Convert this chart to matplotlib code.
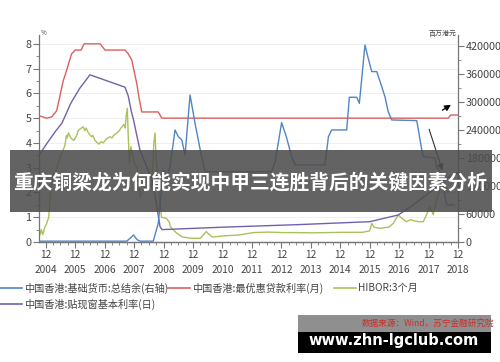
import matplotlib
matplotlib.use('Agg')
import matplotlib.pyplot as plt
from matplotlib.patches import Rectangle
from matplotlib.lines import Line2D
import numpy as np

plt.rcParams['font.family'] = ['Noto Sans CJK SC', 'DejaVu Sans']

# ---- data ----
# prime lending rate, % (left axis)
prime_t = [2004.72, 2004.85, 2004.98, 2005.15, 2005.32, 2005.45, 2005.54, 2005.65, 2005.75,
           2005.83, 2005.95, 2006.15, 2006.25, 2006.80, 2006.96, 2007.64, 2007.75, 2007.87,
           2007.95, 2008.04, 2008.12, 2008.21, 2008.77, 2008.89, 2018.62, 2018.70, 2018.95]
prime_v = [5.1, 5.05, 5.0, 5.05, 5.3, 6.0, 6.5, 6.9, 7.3,
           7.6, 7.75, 7.75, 8.0, 8.0, 7.75, 7.75, 7.6, 7.35,
           6.9, 6.4, 5.8, 5.25, 5.25, 5.0, 5.0, 5.125, 5.125]

# discount window base rate, % (left axis)
base_t = [2004.72, 2005.0, 2005.3, 2005.5, 2005.8, 2006.1, 2006.45, 2007.64, 2007.75, 2007.85,
          2007.93, 2008.15, 2008.38, 2008.60, 2008.72, 2008.83, 2008.90, 2011.0, 2013.5,
          2015.95, 2016.92, 2017.43, 2017.65, 2018.10, 2018.33, 2018.56, 2018.95]
base_v = [3.5, 4.0, 4.5, 4.8, 5.6, 6.2, 6.75, 6.25, 5.9, 5.3,
          4.93, 3.7, 3.04, 2.37, 1.43, 0.62, 0.5, 0.6, 0.7,
          0.82, 1.09, 1.5, 1.7, 2.1, 2.3, 2.57, 2.8]

# HIBOR 3 month, % (left axis)
hibor_t = [2004.72, 2004.76, 2004.80, 2004.85, 2004.92, 2004.98, 2005.05, 2005.10, 2005.15,
           2005.22, 2005.27, 2005.32, 2005.40, 2005.45, 2005.50, 2005.60, 2005.65, 2005.68,
           2005.72, 2005.80, 2005.90, 2006.00, 2006.05, 2006.10, 2006.22, 2006.28, 2006.32,
           2006.40, 2006.50, 2006.55, 2006.62, 2006.75, 2006.83, 2006.90, 2007.00, 2007.12,
           2007.20, 2007.25, 2007.36, 2007.45, 2007.50, 2007.60, 2007.65, 2007.68, 2007.72,
           2007.75, 2007.79, 2007.84, 2007.90, 2007.95, 2008.05, 2008.15, 2008.30, 2008.38,
           2008.55, 2008.62, 2008.66, 2008.70, 2008.76, 2008.88, 2009.05, 2009.15, 2009.18,
           2009.40, 2009.60, 2009.90, 2010.20, 2010.40, 2010.50, 2010.62, 2011.00, 2011.50,
           2012.00, 2012.50, 2013.00, 2013.50, 2014.00, 2014.50, 2015.00, 2015.70, 2015.95,
           2016.02, 2016.10, 2016.30, 2016.60, 2016.75, 2016.92, 2017.05, 2017.20, 2017.33,
           2017.60, 2017.77, 2017.88, 2018.00, 2018.11, 2018.22, 2018.33, 2018.39, 2018.50,
           2018.60, 2018.75, 2018.95]
hibor_v = [0.6, 0.3, 0.5, 0.3, 0.6, 0.75, 1.0, 1.8, 2.4,
           2.8, 2.6, 3.0, 3.3, 3.5, 3.6, 3.9, 4.3, 4.2,
           4.4, 4.2, 4.1, 4.3, 4.5, 4.55, 4.65, 4.5, 4.6,
           4.4, 4.25, 4.3, 4.1, 3.95, 4.05, 4.0, 4.15, 4.25,
           4.2, 4.3, 4.4, 4.5, 4.6, 4.75, 4.6, 5.1, 5.4,
           4.3, 3.2, 3.85, 3.5, 3.2, 3.0, 1.8, 2.2, 2.5,
           2.2, 4.0, 4.4, 3.3, 2.4, 1.0, 0.95, 0.8, 0.62,
           0.35, 0.2, 0.15, 0.15, 0.42, 0.3, 0.2, 0.25, 0.28,
           0.38, 0.4, 0.38, 0.38, 0.37, 0.38, 0.39, 0.39, 0.45,
           0.75, 0.6, 0.55, 0.6, 0.75, 1.09, 0.95, 0.82, 0.9,
           0.82, 0.82, 1.1, 1.43, 1.1, 1.7, 2.1, 2.23, 2.3,
           2.0, 2.2, 2.35]

# aggregate balance, HKD million (right axis)
agg_t = [2004.72, 2007.70, 2007.85, 2007.93, 2008.05, 2008.15, 2008.60, 2008.77, 2008.88,
         2008.95, 2009.06, 2009.17, 2009.34, 2009.45, 2009.57, 2009.68, 2009.85, 2010.02,
         2010.24, 2010.36, 2012.62, 2012.74, 2012.96, 2013.12, 2013.30, 2013.42, 2014.43,
         2014.55, 2014.66, 2015.17, 2015.26, 2015.51, 2015.60, 2015.79, 2015.90, 2016.02,
         2016.19, 2016.36, 2016.47, 2016.58, 2016.70, 2017.55, 2017.72, 2017.77, 2018.17,
         2018.22, 2018.38, 2018.55, 2018.60, 2018.82]
agg_v = [1800, 1800, 10000, 15000, 5000, 1800, 1800, 40000, 111000,
         154000, 140000, 161000, 240000, 225700, 218600, 186000, 315000, 254000,
         183000, 150600, 150600, 172000, 255600, 225600, 182800, 165000, 165000,
         225700, 240000, 240000, 310000, 310000, 297000, 422000, 393600, 365000,
         365000, 332800, 311000, 279000, 261400, 260000, 197000, 182800, 180000,
         161000, 147000, 83000, 79000, 79000]

years = list(range(2004, 2019))
year_labels = ['12\n%d' % y for y in years]

legend_labels = ['中国香港:基础货币:总结余(右轴)', '中国香港:最优惠贷款利率(月)',
                 'HIBOR:3个月', '中国香港:贴现窗基本利率(日)']

c_blue = '#4f86c6'
c_red = '#d9605c'
c_green = '#a9c25a'
c_purple = '#7161ad'
c_txt = '#444444'
c_axis = '#777777'

fig = plt.figure(figsize=(5, 3.62), dpi=100)
ax = fig.add_axes([0.078, 0.3315, 0.838, 0.572])
ax2 = ax.twinx()

ax.plot(hibor_t, hibor_v, color=c_green, lw=1.0, zorder=2)
ax.plot(base_t, base_v, color=c_purple, lw=1.0, zorder=3)
ax.plot(prime_t, prime_v, color=c_red, lw=1.0, zorder=3)
ax2.plot(agg_t, agg_v, color=c_blue, lw=1.0)

ax.set_xlim(2004.72, 2018.95)
ax.set_ylim(0, 8.36)
ax2.set_ylim(0, 443500)

ax.set_xticks([y + 0.95 for y in years])
ax.set_xticklabels(year_labels, linespacing=1.55)
ax.set_xticks(np.arange(2004.95, 2018.95, 0.25), minor=True)
ax.set_yticks(range(0, 9))
ax.set_yticks(np.arange(0, 8.36, 0.5), minor=True)
ax2.set_yticks(range(0, 420001, 60000))
ax2.set_yticks(range(0, 440000, 30000), minor=True)

ax.tick_params(axis='x', labelsize=7.3, colors=c_axis, labelcolor=c_txt, length=4, pad=2)
ax.tick_params(axis='x', which='minor', length=2.5, colors=c_axis)
ax.tick_params(axis='y', labelsize=7.8, colors=c_axis, labelcolor=c_txt, length=4, pad=1.5)
ax.tick_params(axis='y', which='minor', length=2.5, colors=c_axis)
ax2.tick_params(axis='y', labelsize=7.8, colors=c_axis, labelcolor=c_txt, length=4, pad=1.5)
ax2.tick_params(axis='y', which='minor', length=2.5, colors=c_axis)

ax.grid(axis='y', color='#ececec', lw=0.6)
ax.set_axisbelow(True)
for a in (ax, ax2):
    a.spines['top'].set_visible(False)
    for s in ('left', 'right', 'bottom'):
        a.spines[s].set_color(c_axis)
        a.spines[s].set_linewidth(0.9)
ax.spines['right'].set_visible(False)
ax2.spines['left'].set_visible(False)

fig.text(0.082, 1 - 33 / 362, '%', fontsize=4.5, color=c_txt, va='center')
fig.text(0.914, 1 - 34 / 362, '百万港元', fontsize=5, color=c_txt, va='center', ha='right')

# arrows
ax.annotate('', xy=(2018.79, 5.6), xytext=(2018.34, 5.26),
            arrowprops=dict(arrowstyle='-|>', color='black', lw=0.9, mutation_scale=9))
ax.annotate('', xy=(2018.45, 2.78), xytext=(2017.94, 4.66),
            arrowprops=dict(arrowstyle='-|>', color='#333333', lw=0.8, mutation_scale=9))

# legend
def leg(x0, y, color, label):
    yy = 1 - y / 362
    fig.add_artist(Line2D([x0 / 500, (x0 + 22) / 500], [yy, yy], color=color, lw=1.2,
                          transform=fig.transFigure))
    fig.text((x0 + 24) / 500, yy, label, fontsize=7.3, color=c_txt, va='center')

leg(0, 288, c_blue, legend_labels[0])
leg(168, 288, c_red, legend_labels[1])
leg(334, 288, c_green, legend_labels[2])
leg(0, 304, c_purple, legend_labels[3])

# banner
fig.add_artist(Rectangle((10 / 500, 1 - 212 / 362), 482 / 500, 62 / 362,
                         transform=fig.transFigure, facecolor='#4d4d4d', alpha=0.88,
                         edgecolor='none', zorder=10))
fig.text(0.5, 1 - 183 / 362, '重庆铜梁龙为何能实现中甲三连胜背后的关键因素分析',
         fontsize=14.2, fontweight='bold', color='white', ha='center', va='center', zorder=11)

# source / watermark
fig.add_artist(Rectangle((298 / 500, 1 - 332 / 362), 193 / 500, 17 / 362,
                         transform=fig.transFigure, facecolor='#8f8f8f', edgecolor='none',
                         zorder=10))
fig.text(494 / 500, 1 - 323 / 362, '数据来源：Wind，苏宁金融研究院', fontsize=6.2,
         color='#c8302c', ha='right', va='center', zorder=11)
fig.add_artist(Rectangle((298 / 500, 1 - 353 / 362), 193 / 500, 21 / 362,
                         transform=fig.transFigure, facecolor='black', edgecolor='none',
                         zorder=10))
fig.text(394 / 500, 1 - 340 / 362, 'www.zhn-lgclub.com', fontsize=10.5, fontweight='bold',
         family='DejaVu Sans', color='white', ha='center', va='center', zorder=11)

fig.savefig('out.png', dpi=100)
